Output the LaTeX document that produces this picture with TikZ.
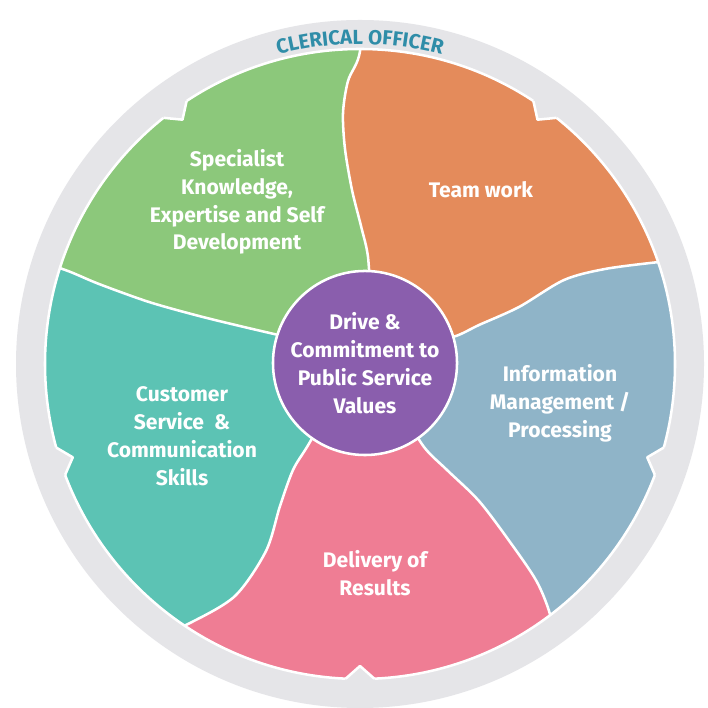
\documentclass[tikz,border=0pt]{standalone}
\usepackage{fontspec}
\setmainfont{Fira Sans}
\usepackage{xcolor}
\usepackage{tikz}
\usetikzlibrary{decorations.text}

\definecolor{ringgray}{HTML}{E5E5E8}
\definecolor{greenseg}{HTML}{8CC87B}
\definecolor{orangeseg}{HTML}{E48B5B}
\definecolor{blueseg}{HTML}{8FB4C8}
\definecolor{pinkseg}{HTML}{EF7D94}
\definecolor{tealseg}{HTML}{5CC3B4}
\definecolor{purpleseg}{HTML}{8A5EAD}
\definecolor{titleblue}{HTML}{2F8DA8}

\begin{document}
\begin{tikzpicture}[
    x=0.025cm, y=0.025cm,
    every node/.style={font=\bfseries\fontsize{15}{19.8}\selectfont, text=white},
    lbl/.style={align=center, inner sep=0pt},
    sep/.style={draw=white, line width=1.8pt, line join=round},
    hub/.style={circle, draw=white, line width=1.8pt, fill=purpleseg,
                minimum size=4.6cm, align=center, inner sep=0pt},
]
\useasboundingbox (0,0) rectangle (708,708);
\fill[white] (0,0) rectangle (708,708);
% outer grey ring
\fill[ringgray] (360,344) circle[radius=344];
% five petals, clipped to the inner disc
\begin{scope}
\clip (360,344) circle[radius=315];
\fill[greenseg] (364,345) -- plot[smooth] coordinates {(371,400) (368,451) (361,482) (352,518) (345,559) (343,595) (348,627) (359,652) (366,700)}
  -- (366,760) -- (-60,760) -- (-60,452)
  -- plot[smooth] coordinates {(30,450) (68,437) (99,424) (149,406) (199,392) (244,381) (300,368)} -- cycle;
\fill[orangeseg] (364,345) -- plot[smooth] coordinates {(420,362) (456,372) (479,383) (519,401) (564,428) (605,439) (659,446) (700,450)}
  -- (760,450) -- (760,760) -- (366,760)
  -- plot[smooth] coordinates {(366,700) (359,652) (348,627) (343,595) (345,559) (352,518) (361,482) (368,451) (371,400)} -- cycle;
\fill[blueseg] (364,345) -- plot[smooth] coordinates {(400,300) (424,261) (447,238) (479,207) (510,166) (537,126) (551,90) (556,50)}
  -- (556,-60) -- (760,-60) -- (760,450)
  -- plot[smooth] coordinates {(700,450) (659,446) (605,439) (564,428) (519,401) (479,383) (456,372) (420,362)} -- cycle;
\fill[pinkseg] (364,345) -- plot[smooth] coordinates {(330,300) (307,261) (293,238) (280,202) (266,157) (235,112) (190,85) (150,68)}
  -- (120,-60) -- (556,-60)
  -- plot[smooth] coordinates {(556,50) (551,90) (537,126) (510,166) (479,207) (447,238) (424,261) (400,300)} -- cycle;
\fill[tealseg] (364,345) -- plot[smooth] coordinates {(300,368) (244,381) (199,392) (149,406) (99,424) (68,437) (30,450)}
  -- (-60,452) -- (-60,-60) -- (120,-60)
  -- plot[smooth] coordinates {(150,68) (190,85) (235,112) (266,157) (280,202) (293,238) (330,300)} -- cycle;
% white borders between petals
\draw[sep] plot[smooth] coordinates {(371,400) (368,451) (361,482) (352,518) (345,559) (343,595) (348,627) (359,652) (366,700)};
\draw[sep] plot[smooth] coordinates {(420,362) (456,372) (479,383) (519,401) (564,428) (605,439) (659,446) (700,450)};
\draw[sep] plot[smooth] coordinates {(400,300) (424,261) (447,238) (479,207) (510,166) (537,126) (551,90) (556,50)};
\draw[sep] plot[smooth] coordinates {(330,300) (307,261) (293,238) (280,202) (266,157) (235,112) (190,85) (150,68)};
\draw[sep] plot[smooth] coordinates {(300,368) (244,381) (199,392) (149,406) (99,424) (68,437) (30,450)};
\end{scope}
\draw[sep] (360,344) circle[radius=315];
% small notches on the rim
\begin{scope}[shift={(360,344)}]
\foreach \a in {126,54,-18,-90,-162} {
  \fill[ringgray] (\a-3:325) -- (\a-2.6:315) -- (\a:302) -- (\a+2.6:315) -- (\a+3:325) -- cycle;
  \draw[sep] (\a-2.6:315) -- (\a:302) -- (\a+2.6:315);
}
% curved title
\path[decorate, decoration={text along path, text align=center,
      text={|\color{titleblue}\bfseries\fontsize{14.5}{14.5}\selectfont|CLERICAL OFFICER}}]
  (120:320) arc[start angle=120, end angle=60, radius=320];
\end{scope}
% centre and labels
\node[hub] (drive) at (365,345) {Drive \&\\Commitment to\\Public Service\\Values};
\node[lbl] (spec) at (237,506) {Specialist\\Knowledge,\\Expertise and Self\\Development};
\node[lbl] (team) at (481,518) {Team work};
\node[lbl] (info) at (560,305) {Information\\Management /\\Processing};
\node[lbl] (results) at (375,135) {Delivery of\\Results};
\node[lbl] (customer) at (182,272) {Customer\\Service~~\&\\Communication\\Skills};
\end{tikzpicture}
\end{document}
